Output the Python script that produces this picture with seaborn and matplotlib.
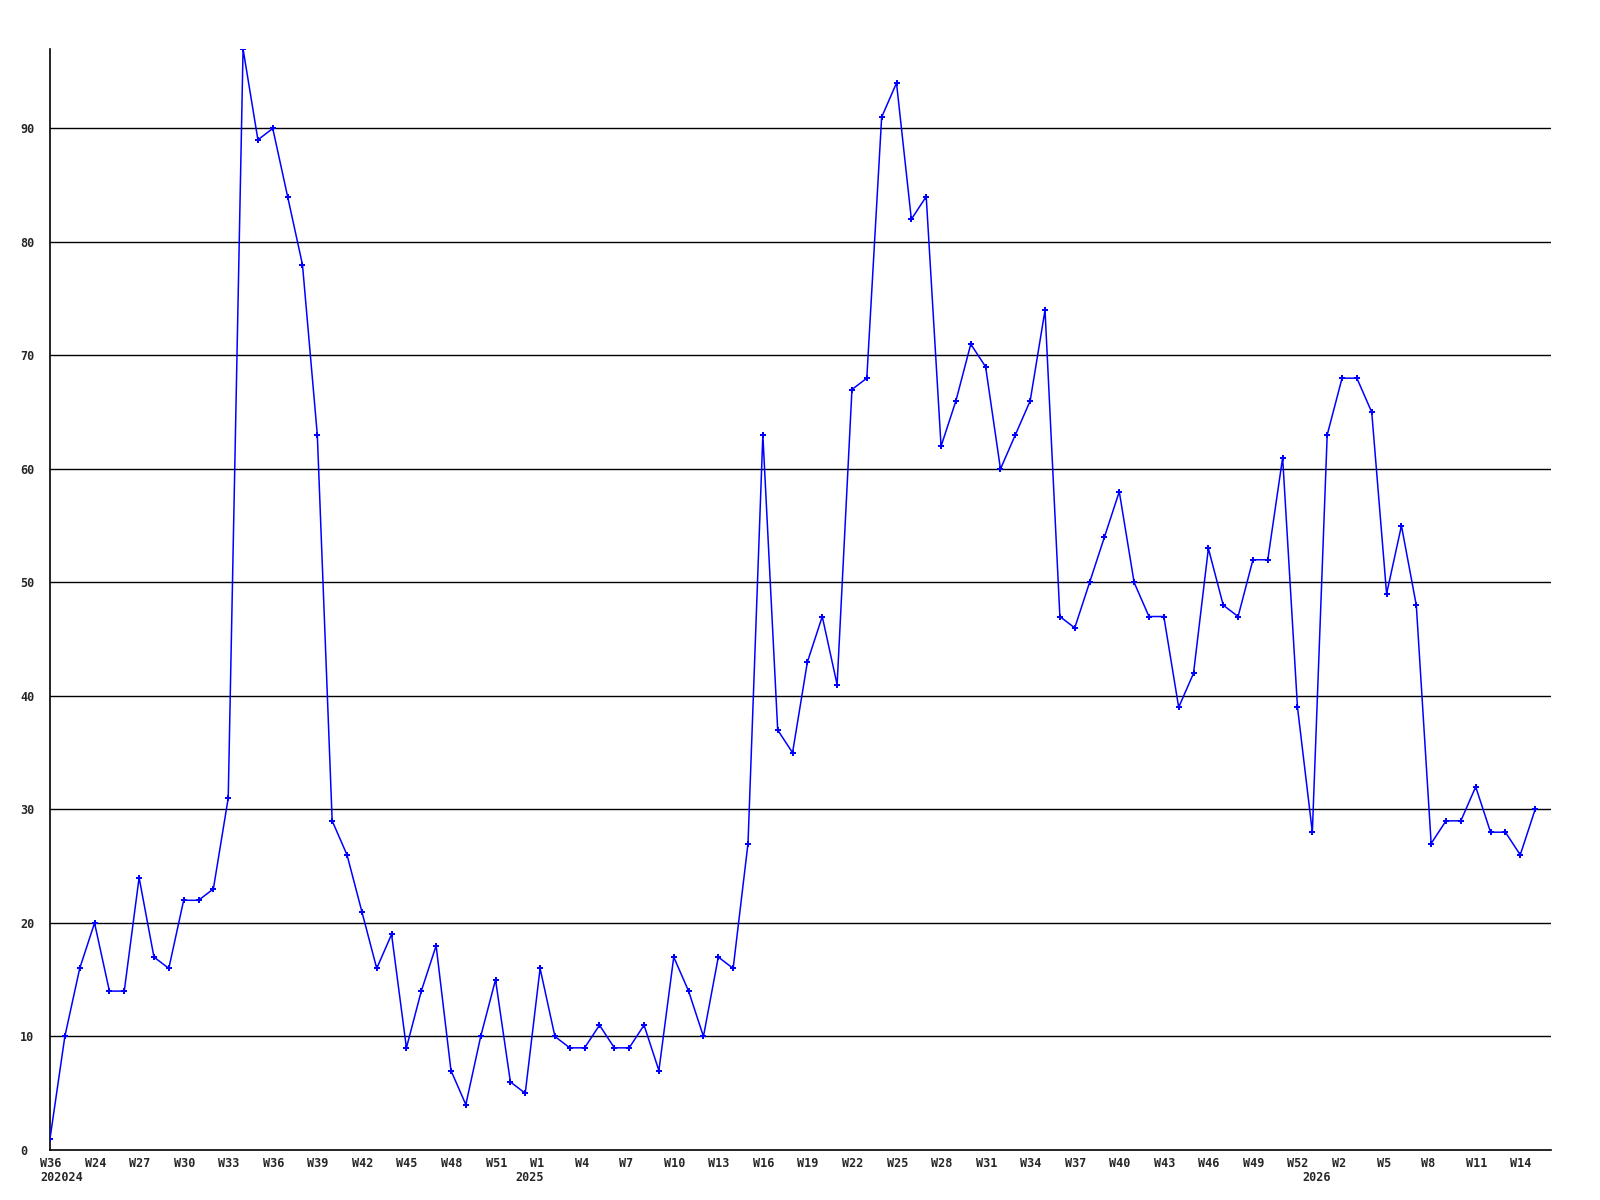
import matplotlib
matplotlib.use("Agg")
import matplotlib.pyplot as plt
import matplotlib.transforms as mtransforms
import numpy as np
import pandas as pd
import seaborn as sns

values = [1, 10, 16, 20, 14, 14, 24, 17, 16, 22,
          22, 23, 31, 97, 89, 90, 84, 78, 63, 29,
          26, 21, 16, 19, 9, 14, 18, 7, 4, 10,
          15, 6, 5, 16, 10, 9, 9, 11, 9, 9,
          11, 7, 17, 14, 10, 17, 16, 27, 63, 37,
          35, 43, 47, 41, 67, 68, 91, 94, 82, 84,
          62, 66, 71, 69, 60, 63, 66, 74, 47, 46,
          50, 54, 58, 50, 47, 47, 39, 42, 53, 48,
          47, 52, 52, 61, 39, 28, 63, 68, 68, 65,
          49, 55, 48, 27, 29, 29, 32, 28, 28, 26, 30]

week_tick_pos = list(range(0, 100, 3))
week_tick_labels = ["W36", "W24", "W27", "W30", "W33", "W36", "W39", "W42", "W45",
                    "W48", "W51", "W1", "W4", "W7", "W10", "W13", "W16", "W19",
                    "W22", "W25", "W28", "W31", "W34", "W37", "W40", "W43", "W46",
                    "W49", "W52", "W2", "W5", "W8", "W11", "W14"]
year_tick_pos = [0, 32, 85]
year_tick_labels = ["202024", "2025", "2026"]
y_ticks = [0, 10, 20, 30, 40, 50, 60, 70, 80, 90]

df = pd.DataFrame({"idx": np.arange(len(values)), "value": values})

sns.set_style("white")
plt.rcParams["font.family"] = ["DejaVu Sans Mono", "DejaVu Sans"]

fig = plt.figure(figsize=(16, 12), dpi=100)
ax = fig.add_axes([50 / 1600, 1 - 1150 / 1200, (1551 - 50) / 1600, (1150 - 49) / 1200])

for yv in y_ticks[1:]:
    ax.axhline(yv, color="black", lw=1.0, zorder=1)

sns.lineplot(data=df, x="idx", y="value", ax=ax, color="#0000ff", lw=1.1,
             marker="P", markersize=4.5, markeredgewidth=0, zorder=3)

ax.set_xlim(0, 101.07)
ax.set_ylim(0, 97)
ax.set_xlabel("")
ax.set_ylabel("")

for side in ["top", "right"]:
    ax.spines[side].set_visible(False)
for side in ["left", "bottom"]:
    ax.spines[side].set_color("black")
    ax.spines[side].set_linewidth(1.2)

ax.set_yticks(y_ticks)
ax.set_yticklabels([str(v) for v in y_ticks], fontsize=8.5, fontweight="bold")
ax.tick_params(axis="y", length=0, pad=21.6)
for lbl in ax.get_yticklabels():
    lbl.set_horizontalalignment("left")

ax.xaxis.remove_overlapping_locs = False
ax.set_xticks(week_tick_pos)
ax.set_xticklabels(week_tick_labels, fontsize=8.5, fontweight="bold")
ax.set_xticks(year_tick_pos, minor=True)
ax.set_xticklabels(year_tick_labels, minor=True, fontsize=8.5, fontweight="bold")
ax.tick_params(axis="x", which="major", length=0, pad=5)
ax.tick_params(axis="x", which="minor", length=0, pad=15)

offset = mtransforms.ScaledTranslation(-10 / 100, 0, fig.dpi_scale_trans)
for lbl in ax.get_xticklabels() + ax.get_xticklabels(minor=True):
    lbl.set_horizontalalignment("left")
    lbl.set_transform(lbl.get_transform() + offset)

fig.savefig("out.png", dpi=100, facecolor="white")
